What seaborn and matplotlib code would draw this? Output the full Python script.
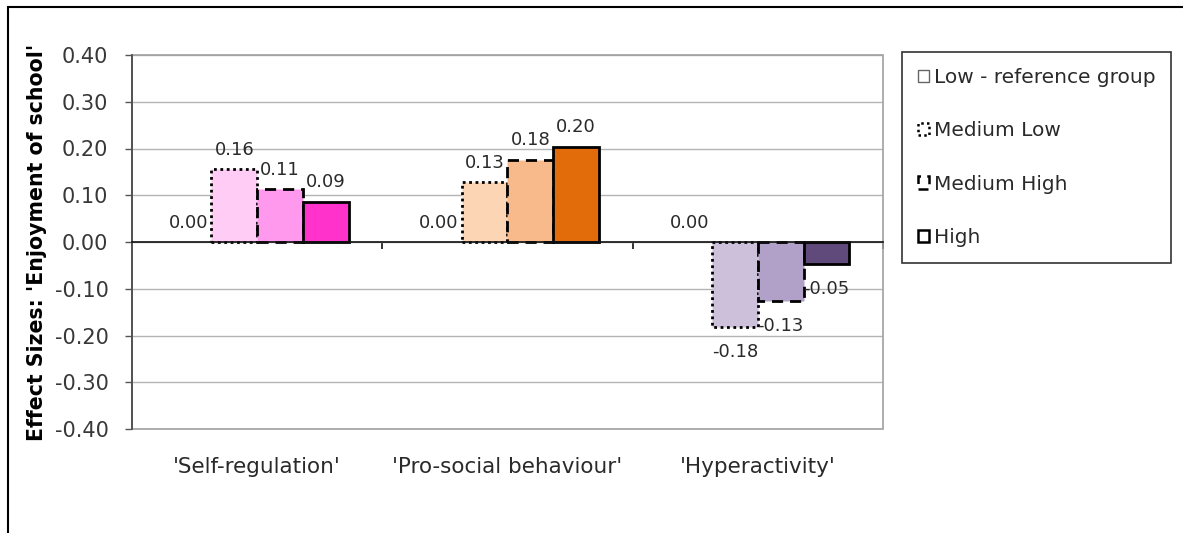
import matplotlib
matplotlib.use("Agg")
import matplotlib.pyplot as plt
from matplotlib.patches import Patch, Rectangle
from matplotlib.ticker import FixedLocator
import seaborn as sns
import pandas as pd
import numpy as np

# data
scales = ["'Self-regulation'", "'Pro-social behaviour'", "'Hyperactivity'"]
groups = ["Low - reference group", "Medium Low", "Medium High", "High"]
low_ref = [0.0, 0.0, 0.0]
medium_low = [0.156, 0.128, -0.182]
medium_high = [0.113, 0.176, -0.126]
high = [0.086, 0.204, -0.048]
y_ticks = [-0.4, -0.3, -0.2, -0.1, 0.0, 0.1, 0.2, 0.3, 0.4]

rows = []
for g, vals in zip(groups, [low_ref, medium_low, medium_high, high]):
    for s, v in zip(scales, vals):
        rows.append({"scale": s, "group": g, "effect": v})
df = pd.DataFrame(rows)

# colours per scale (rows) and group (cols)
bar_colors = [
    ["#FFFFFF", "#FFCCF6", "#FF99EE", "#FF33CC"],
    ["#FFFFFF", "#FCD5B5", "#F8BA8A", "#E26B0A"],
    ["#FFFFFF", "#CCC0DA", "#B1A0C7", "#604A7B"],
]
edge_styles = [
    dict(linewidth=0, linestyle="-"),
    dict(linewidth=2.0, linestyle=(0, (1, 1.3))),
    dict(linewidth=2.0, linestyle=(0, (4, 2.5))),
    dict(linewidth=2.0, linestyle="-"),
]

sns.set_theme(style="white")
plt.rcParams["font.family"] = ["DejaVu Sans"]

W, H = 1183, 533
fig = plt.figure(figsize=(W / 100, H / 100), dpi=100)
ax = fig.add_axes([132 / W, 1 - 429 / H, (883 - 132) / W, (429 - 55) / H])

sns.barplot(data=df, x="scale", y="effect", hue="group", order=scales,
            hue_order=groups, width=0.73, ax=ax, legend=False,
            errorbar=None, zorder=3)

for gi, cont in enumerate(ax.containers):
    for si, bar in enumerate(cont):
        bar.set_facecolor(bar_colors[si][gi])
        bar.set_edgecolor("black")
        bar.set_linewidth(edge_styles[gi]["linewidth"])
        bar.set_linestyle(edge_styles[gi]["linestyle"])
        v = df[(df.group == groups[gi]) & (df.scale == scales[si])]["effect"].iloc[0]
        cx = bar.get_x() + bar.get_width() / 2
        off = 14 if v >= 0 else -18
        ax.annotate(f"{v:.2f}", (cx, v), xytext=(0, off), textcoords="offset points",
                    ha="center", va="center", fontsize=13, color="#2a2a2a", zorder=4)

ax.set_ylim(-0.4, 0.4)
ax.set_xlim(-0.5, 2.5)
ax.set_yticks(y_ticks)
ax.set_yticklabels([f"{t:.2f}" for t in y_ticks], fontsize=15, color="#383838")
ax.yaxis.grid(True, color="#b4b4b4", linewidth=1.0, zorder=0)
ax.tick_params(axis="y", direction="out", length=5, width=1, color="#555555",
               pad=12, left=True)

# category axis at zero
for s in ["top", "right"]:
    ax.spines[s].set_visible(False)
ax.spines["bottom"].set_position(("data", 0))
ax.spines["bottom"].set_color("#111111")
ax.spines["bottom"].set_linewidth(1.2)
ax.spines["bottom"].set_zorder(3.5)
ax.spines["left"].set_color("#444444")
ax.spines["left"].set_linewidth(1.2)
ax.xaxis.set_minor_locator(FixedLocator([0.5, 1.5, 2.5]))
ax.tick_params(axis="x", which="minor", direction="out", length=5, width=1.2,
               color="#111111", bottom=True)
ax.tick_params(axis="x", which="major", length=0, pad=155, labelsize=15.5,
               labelcolor="#2a2a2a")
ax.set_xlabel("")
ax.set_ylabel("Effect Sizes: 'Enjoyment of school'", fontsize=14.8,
              fontweight="bold", color="black")
ax.yaxis.set_label_coords((47 - 132) / (883 - 132), 0.5)

# grey plot area frame
ax.add_patch(Rectangle((0, 0), 1, 1, transform=ax.transAxes, fill=False,
                       edgecolor="#a0a0a0", linewidth=1.2, zorder=1, clip_on=False))

# legend with white square keys
handles = []
for gi, g in enumerate(groups):
    st = edge_styles[gi]
    if gi == 0:
        handles.append(Patch(facecolor="white", edgecolor="#666666", linewidth=1.0, label=g))
    else:
        handles.append(Patch(facecolor="white", edgecolor="black",
                             linewidth=st["linewidth"] * 0.9, linestyle=st["linestyle"], label=g))
leg = fig.legend(handles=handles, loc="upper left",
                 bbox_to_anchor=(902 / W, 1 - 52 / H - 0.01, (1171 - 902) / W, 0.01),
                 mode="expand", fontsize=14.5, frameon=True, fancybox=False,
                 handlelength=0.55, handleheight=0.55, handletextpad=0.25,
                 labelspacing=1.7, borderpad=0.8, borderaxespad=0)
leg.get_frame().set_edgecolor("black")
leg.get_frame().set_linewidth(1.2)
for t in leg.get_texts():
    t.set_color("#2a2a2a")

# outer chart border (cropped)
fig.patches.append(Rectangle((8 / W, -0.1), 1.2, 1 - 7 / H + 0.1,
                             transform=fig.transFigure, fill=False,
                             edgecolor="black", linewidth=1.5))

fig.savefig("out.png", dpi=100, facecolor="white")
